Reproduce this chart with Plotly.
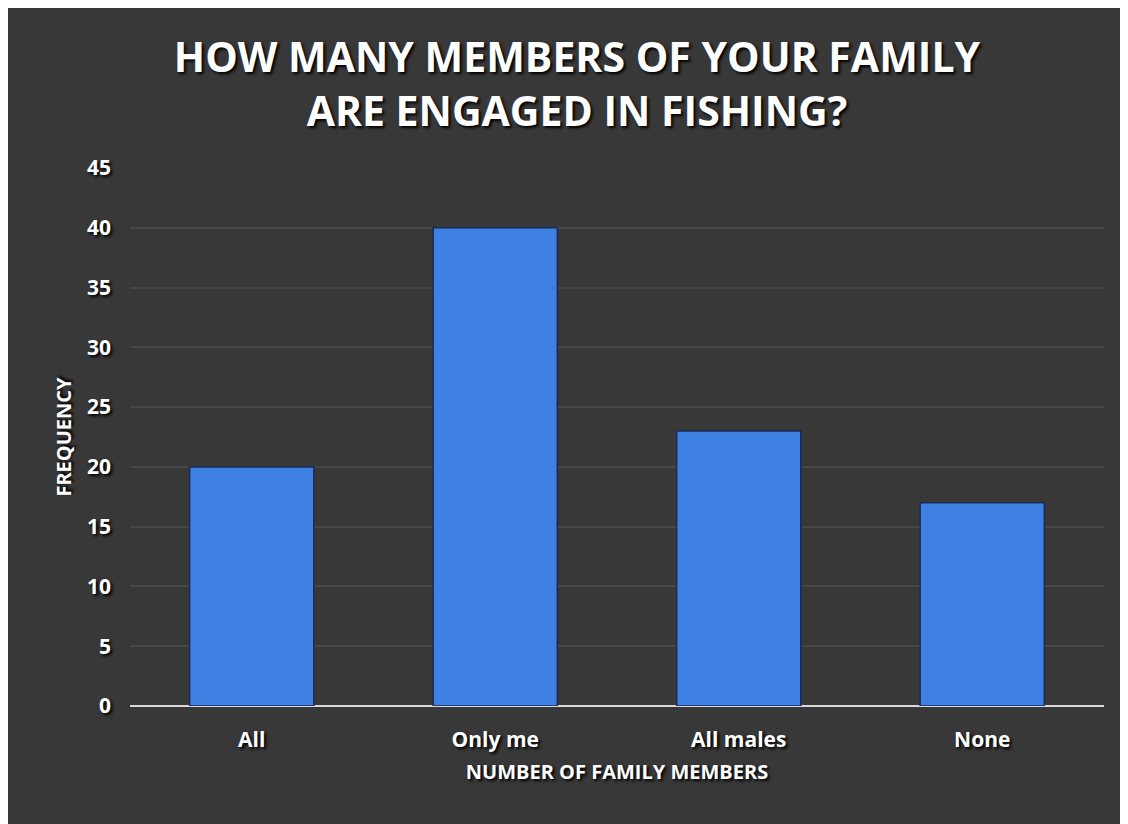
import plotly.graph_objects as go

# survey answers
members = ["All", "Only me", "All males", "None"]
frequency = [20, 40, 23, 17]
y_ticks = [0, 5, 10, 15, 20, 25, 30, 35, 40, 45]

shadow = "2px 2px 3px #000000"
font_name = "Open Sans"

fig = go.Figure(go.Bar(
    x=members,
    y=frequency,
    width=0.51,
    marker=dict(color="#3f80e3", line=dict(color="#1a2a55", width=1.5)),
))

# the page body adds 8px at top/left, so the figure is 8px smaller
fig.update_layout(
    width=1120,
    height=816,
    paper_bgcolor="#383838",
    plot_bgcolor="rgba(0,0,0,0)",
    margin=dict(l=122, r=24, t=160, b=118),
    showlegend=False,
    title=dict(
        text="HOW MANY MEMBERS OF YOUR FAMILY<br>ARE ENGAGED IN FISHING?",
        x=0.508, xanchor="center",
        y=0.921, yanchor="middle",
        font=dict(family=font_name, size=41, color="white", weight="bold", shadow=shadow),
    ),
    xaxis=dict(
        title=dict(text="NUMBER OF FAMILY MEMBERS", standoff=12,
                   font=dict(family=font_name, size=20, color="white", weight="bold", shadow=shadow)),
        tickfont=dict(family=font_name, size=21, color="white", weight="bold", shadow=shadow),
        ticklabelstandoff=19,
        showgrid=False,
        showline=False,
    ),
    yaxis=dict(
        title=dict(text="FREQUENCY", standoff=9,
                   font=dict(family=font_name, size=20, color="white", weight="bold", shadow=shadow)),
        range=[0, 45],
        tickvals=y_ticks,
        tickfont=dict(family=font_name, size=21, color="white", weight="bold", shadow=shadow),
        ticklabelstandoff=18,
        showgrid=True,
        gridcolor="rgba(255,255,255,0.08)",
        gridwidth=1.5,
        zeroline=True,
        zerolinecolor="#d8d8d8",
        zerolinewidth=2,
    ),
)

fig.write_html("out.html")
